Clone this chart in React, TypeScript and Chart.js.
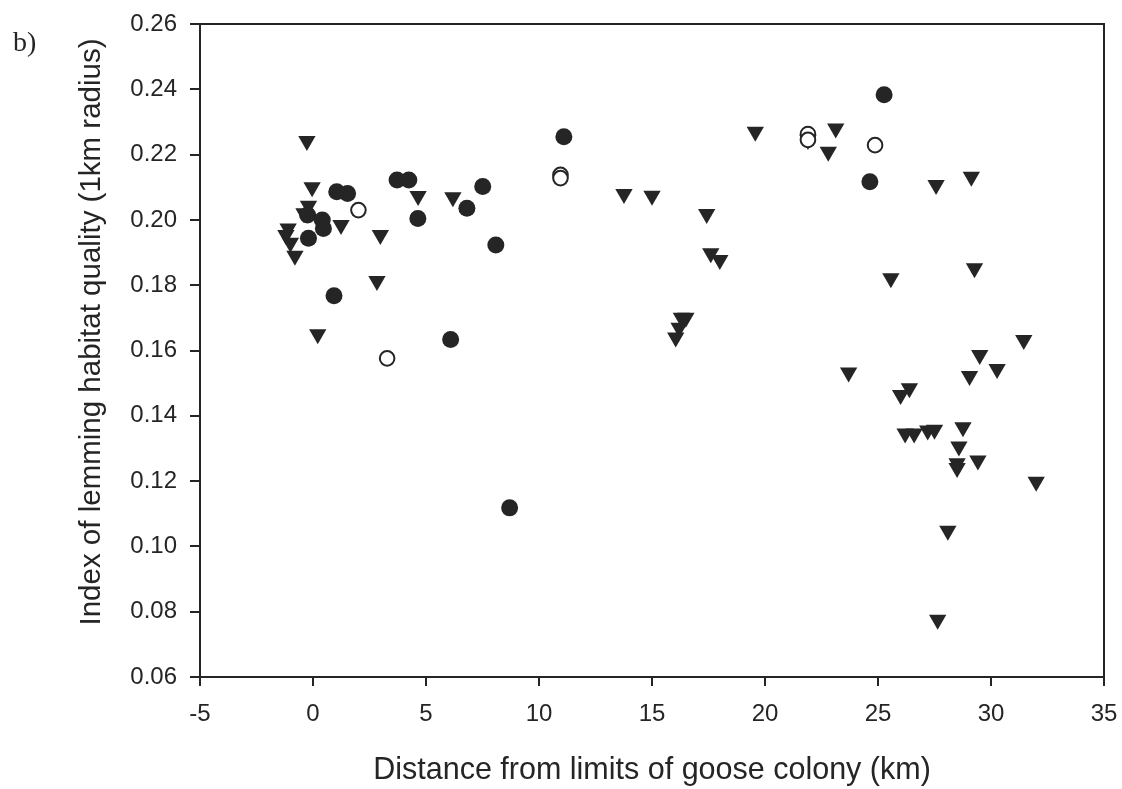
import React, { useEffect, useRef } from "react";
import { Chart, registerables } from "chart.js";
Chart.register(...registerables);

// Filled circles
const filledX = [-0.24, 0.41, 0.46, -0.2, 0.93, 1.05, 1.53, 3.72, 4.24, 4.64, 6.09, 6.81, 7.51, 8.09, 8.7, 11.1, 24.64, 25.27];
const filledY = [0.2015, 0.2, 0.1974, 0.1944, 0.1768, 0.2086, 0.2081, 0.2122, 0.2122, 0.2004, 0.1634, 0.2036, 0.2102, 0.1923, 0.1118, 0.2255, 0.2117, 0.2383];

// Open circles
const openX = [2.01, 3.28, 10.95, 10.95, 21.9, 21.9, 24.87];
const openY = [0.203, 0.1576, 0.2138, 0.2128, 0.2263, 0.2245, 0.2229];

// Filled down-triangles
const triX = [-0.27, -0.04, -0.2, -0.4, -1.1, -1.2, -1.0, -0.8, 1.24, 2.98, 2.83, 0.21, 4.65, 6.19, 13.76, 15.0, 17.42, 17.6, 18.0, 16.3, 16.5, 16.2, 16.05, 19.57, 21.9, 22.8, 23.13, 25.57, 27.57, 29.13, 29.27, 31.45, 29.5, 30.27, 29.05, 23.7, 26.39, 26.0, 26.2, 26.6, 27.2, 27.5, 28.76, 28.58, 28.5, 28.5, 29.42, 32.0, 28.09, 27.64];
const triY = [0.2242, 0.21, 0.2043, 0.202, 0.1974, 0.1954, 0.193, 0.189, 0.1984, 0.1954, 0.1813, 0.165, 0.2073, 0.2069, 0.2079, 0.2074, 0.2018, 0.1898, 0.1877, 0.17, 0.17, 0.167, 0.164, 0.227, 0.2245, 0.2209, 0.228, 0.1821, 0.2107, 0.2132, 0.1852, 0.1632, 0.1586, 0.1543, 0.1522, 0.1533, 0.1484, 0.1464, 0.1346, 0.1346, 0.1355, 0.1357, 0.1365, 0.1306, 0.1255, 0.124, 0.1263, 0.1198, 0.1048, 0.0775];

const xTitle = "Distance from limits of goose colony (km)";
const yTitle = "Index of lemming habitat quality (1km radius)";
const panelLabel = "b)";

const INK = "#252525";
const FONT = "'Liberation Sans', Arial, sans-serif";

const toPts = (xs: number[], ys: number[]) => xs.map((x, i) => ({ x, y: ys[i] }));

const framePlugin = {
  id: "frame",
  afterDraw(chart: any) {
    const { ctx, chartArea } = chart;
    const { left, right, top, bottom } = chartArea;
    ctx.save();
    ctx.strokeStyle = INK;
    ctx.lineWidth = 2;
    ctx.beginPath();
    ctx.moveTo(left - 1, top);
    ctx.lineTo(right, top);
    ctx.lineTo(right, bottom + 1);
    ctx.stroke();
    // y-axis title
    ctx.translate(92, 332);
    ctx.rotate(-Math.PI / 2);
    ctx.fillStyle = INK;
    ctx.font = `29.5px ${FONT}`;
    ctx.textAlign = "center";
    ctx.textBaseline = "middle";
    ctx.fillText(yTitle, 0, 0);
    ctx.restore();
  },
};

export default function App() {
  const ref = useRef<HTMLCanvasElement | null>(null);
  useEffect(() => {
    if (!ref.current) return;
    const chart = new Chart(ref.current, {
      type: "scatter",
      data: {
        datasets: [
          {
            label: "filled",
            data: toPts(filledX, filledY),
            pointStyle: "circle",
            pointRadius: 8.5,
            backgroundColor: INK,
            borderColor: INK,
            borderWidth: 0,
          },
          {
            label: "open",
            data: toPts(openX, openY),
            pointStyle: "circle",
            pointRadius: 7.3,
            backgroundColor: "#ffffff",
            borderColor: INK,
            borderWidth: 2,
          },
          {
            label: "tri",
            data: toPts(triX, triY),
            pointStyle: "triangle",
            pointRotation: 180,
            pointRadius: 10,
            backgroundColor: INK,
            borderColor: INK,
            borderWidth: 0,
          },
        ],
      },
      options: {
        animation: false,
        responsive: false,
        layout: { padding: { top: 24, right: 18, left: 0, bottom: 0 } },
        plugins: { legend: { display: false }, tooltip: { enabled: false } },
        scales: {
          x: {
            type: "linear",
            min: -5,
            max: 35,
            afterFit: (s: any) => { s.height = 112; s.paddingLeft = 0; s.paddingRight = 0; },
            ticks: { stepSize: 5, color: INK, font: { family: FONT, size: 24 }, padding: 14, maxRotation: 0 },
            grid: { drawOnChartArea: false, drawTicks: true, tickLength: 9, color: INK, lineWidth: 2 },
            border: { display: true, color: INK, width: 2 },
            title: { display: true, text: xTitle, color: INK, font: { family: FONT, size: 30.5 }, padding: { top: 3, bottom: 0 } },
          },
          y: {
            type: "linear",
            min: 0.06,
            max: 0.26,
            afterFit: (s: any) => { s.width = 200; s.paddingTop = 0; s.paddingBottom = 0; },
            ticks: { stepSize: 0.02, color: INK, font: { family: FONT, size: 24 }, padding: 13, callback: (v: any) => Number(v).toFixed(2) },
            grid: { drawOnChartArea: false, drawTicks: true, tickLength: 10, color: INK, lineWidth: 2 },
            border: { display: true, color: INK, width: 2 },
            title: { display: false },
          },
        },
      },
      plugins: [framePlugin],
    });
    return () => chart.destroy();
  }, []);
  return (
    <div style={{ position: "absolute", left: 0, top: 0, width: 1122, height: 789, background: "#fff" }}>
      <canvas ref={ref} width={1122} height={789} />
      <div style={{ position: "absolute", left: 13, top: 26, lineHeight: "32px", fontFamily: "'Liberation Serif', 'Times New Roman', serif", fontSize: 28, color: INK }}>
        {panelLabel}
      </div>
    </div>
  );
}
